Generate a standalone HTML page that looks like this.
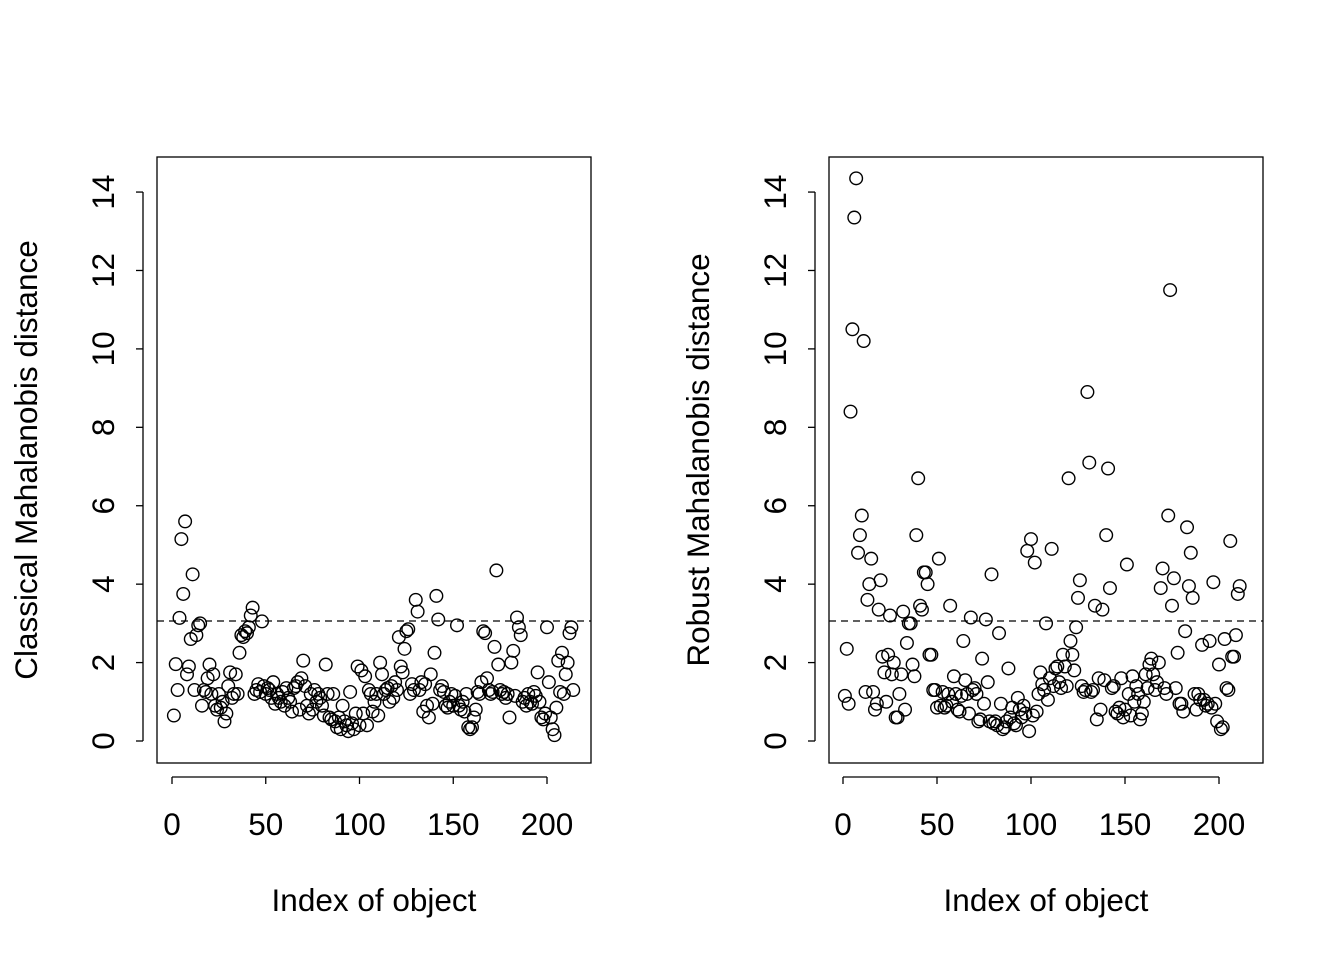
<!DOCTYPE html>
<html><head><meta charset="utf-8"><style>
body{margin:0;background:#fff}
svg text{font-family:"Liberation Sans",sans-serif;fill:#000}
</style></head><body>
<svg id="chart" width="1344" height="960" xmlns="http://www.w3.org/2000/svg">
<rect width="1344" height="960" fill="#fff"/>
</svg>
<script>
const classicalValues=[0.65,1.96,1.3,3.14,5.15,3.75,5.6,1.7,1.9,2.6,4.25,1.3,2.7,2.95,3.0,0.9,1.3,1.25,1.6,1.95,
1.2,1.7,0.9,0.8,1.2,0.85,1.0,0.5,0.7,1.4,1.75,1.1,1.2,1.7,1.2,2.25,2.7,2.65,2.8,2.75,
2.9,3.2,3.4,1.2,1.3,1.45,1.25,3.05,1.4,1.2,1.35,1.3,1.1,1.5,0.95,1.2,1.1,1.0,1.25,0.9,
1.35,1.1,1.0,0.75,1.35,1.4,1.5,0.8,1.6,2.05,1.4,0.9,0.7,1.2,0.8,1.3,1.0,1.2,1.1,0.9,
0.65,1.95,1.2,0.6,0.55,1.2,0.5,0.35,0.6,0.3,0.9,0.5,0.4,0.25,1.25,0.45,0.3,0.7,1.9,0.4,
1.8,0.7,1.65,0.4,1.3,1.2,0.75,1.0,1.2,0.65,2.0,1.7,1.2,1.3,1.35,1.0,1.4,1.1,1.5,1.3,
2.65,1.9,1.75,2.35,2.8,2.85,1.2,1.45,1.3,3.6,3.3,1.3,1.5,0.75,1.45,0.9,0.6,1.7,0.95,2.25,
3.7,3.1,1.3,1.4,1.25,0.9,0.85,1.0,1.2,0.9,1.15,2.95,0.9,0.8,1.0,0.75,1.2,0.35,0.3,0.35,
0.6,0.8,1.25,1.2,1.5,2.8,2.75,1.6,1.3,1.2,1.25,2.4,4.35,1.95,1.3,1.2,1.25,1.1,1.2,0.6,
2.0,2.3,1.15,3.15,2.9,2.7,1.0,1.1,0.9,1.2,1.0,0.95,1.25,1.15,1.75,1.0,0.6,0.55,0.7,2.9,
1.5,0.6,0.3,0.15,0.85,2.05,1.25,2.25,1.2,1.7,2.0,2.75,2.9,1.3];
const robustValues=[1.15,2.35,0.95,8.4,10.5,13.35,14.35,4.8,5.25,5.75,
10.2,1.25,3.6,4.0,4.65,1.25,0.8,0.95,3.35,4.1,
2.15,1.75,1.0,2.2,3.2,1.7,2.0,0.6,0.6,1.2,
1.7,3.3,0.8,2.5,3.0,3.0,1.95,1.65,5.25,6.7,
3.45,3.35,4.3,4.3,4.0,2.2,2.2,1.3,1.3,0.85,
4.65,0.9,1.25,0.85,0.9,1.2,3.45,1.0,1.65,1.2,
0.8,0.75,1.15,2.55,1.55,1.2,0.7,3.15,1.3,1.35,
1.2,0.5,0.55,2.1,0.95,3.1,1.5,0.5,4.25,0.45,
0.5,0.4,2.75,0.95,0.3,0.35,0.5,1.85,0.6,0.85,
0.45,0.4,1.1,0.8,0.6,0.9,0.7,4.85,0.25,5.15,0.65,4.55,0.75,
1.2,1.75,1.45,1.3,3.0,1.05,1.6,4.9,1.4,1.85,
1.9,1.5,1.35,2.2,1.9,1.4,6.7,2.55,2.2,1.8,
2.9,3.65,4.1,1.4,1.25,1.3,8.9,7.1,
1.25,1.3,3.45,0.55,1.6,0.8,3.35,1.55,5.25,6.95,3.9,
1.35,1.4,0.75,0.7,0.85,1.6,0.6,0.8,4.5,
1.2,0.65,1.65,1.0,1.4,1.2,0.55,0.7,1.0,
1.7,1.35,1.95,2.1,1.7,1.3,1.5,2.0,3.9,4.4,1.35,1.2,5.75,11.5,3.45,4.15,1.35,2.25,0.95,0.95,
0.75,2.8,5.45,3.95,4.8,3.65,1.2,0.8,1.2,1.05,2.45,1.05,0.9,0.95,2.55,0.85,4.05,0.95,0.5,1.95,
0.3,0.35,2.6,1.35,1.3,5.1,2.15,2.15,2.7,3.75,3.95];
const xTicks=[0,50,100,150,200];
const yTicks=[0,2,4,6,8,10,12,14];
const cutoff=[3.06];

const NS="http://www.w3.org/2000/svg";
const svg=document.getElementById('chart');
function mk(tag,attrs,parent){const e=document.createElementNS(NS,tag);for(const k in attrs)e.setAttribute(k,attrs[k]);(parent||svg).appendChild(e);return e;}

function panel(key,box,x0,xPer,values,ytitle){
  const g=mk('g',{});
  
  
  const sx=v=>x0+v*xPer;
  const sy=v=>741-v*39.21;
  const frame=mk('rect',{x:box[0],y:157,width:box[1]-box[0],height:606,fill:'none',stroke:'#000','stroke-width':1.3},g);
  
  
  const xa=mk('g',{},g);
  
  
  mk('line',{x1:sx(xTicks[0]),x2:sx(xTicks[xTicks.length-1]),y1:777,y2:777,stroke:'#000','stroke-width':1.3},xa);
  xTicks.forEach(t=>{
    mk('line',{x1:sx(t),x2:sx(t),y1:777,y2:784,stroke:'#000','stroke-width':1.3},xa);
    const tx=mk('text',{x:sx(t),y:835,'text-anchor':'middle','font-size':31.5},xa);
    tx.textContent=t;
    
    
  });
  const ya=mk('g',{},g);
  
  
  const ax=box[0]-14;
  mk('line',{x1:ax,x2:ax,y1:sy(yTicks[0]),y2:sy(yTicks[yTicks.length-1]),stroke:'#000','stroke-width':1.3},ya);
  yTicks.forEach(t=>{
    mk('line',{x1:ax,x2:ax-7,y1:sy(t),y2:sy(t),stroke:'#000','stroke-width':1.3},ya);
    const tx=mk('text',{x:ax-29,y:sy(t),'text-anchor':'middle','font-size':31.5,transform:`rotate(-90 ${ax-29} ${sy(t)})`},ya);
    tx.textContent=t;
    
    
  });
  const yt=mk('text',{x:box[0]-120,y:460,'text-anchor':'middle','font-size':31.5,transform:`rotate(-90 ${box[0]-120} 460)`},g);
  yt.textContent=ytitle;
  
  
  const xt=mk('text',{x:(box[0]+box[1])/2,y:911,'text-anchor':'middle','font-size':31.5},g);
  xt.textContent='Index of object';
  
  
  const cl=mk('line',{x1:box[0],x2:box[1],y1:sy(cutoff[0]),y2:sy(cutoff[0]),stroke:'#000','stroke-width':1.3,'stroke-dasharray':'7,5'},g);
  
  
  values.forEach((v,i)=>{
    const c=mk('circle',{cx:sx(i+1),cy:sy(v),r:6.3,fill:'none',stroke:'#000','stroke-width':1.4},g);
    
    
  });
}
panel('classical',[157,591],172,1.875,classicalValues,'Classical Mahalanobis distance');
panel('robust',[829,1263],843,1.88,robustValues,'Robust Mahalanobis distance');
</script>
</body></html>
